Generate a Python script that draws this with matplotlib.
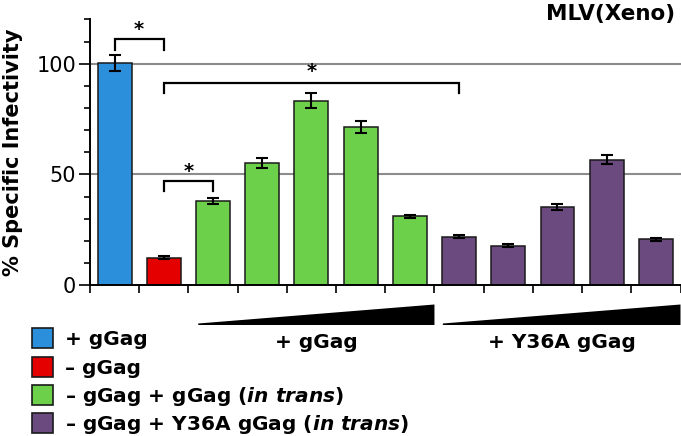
import matplotlib
matplotlib.use("Agg")
import matplotlib.pyplot as plt
from matplotlib.patches import Polygon, Rectangle
import matplotlib.transforms as mtransforms

plt.rcParams['font.family'] = ['DejaVu Sans']
plt.rcParams['mathtext.fontset'] = 'custom'
plt.rcParams['mathtext.rm'] = 'DejaVu Sans:bold'
plt.rcParams['mathtext.it'] = 'DejaVu Sans:italic:bold'
plt.rcParams['mathtext.bf'] = 'DejaVu Sans:bold'

# ---- data ----
values = [100.5, 12.4, 38.0, 55.2, 83.3, 71.3, 31.1, 21.8, 17.8, 35.3, 56.6, 20.7]
errors = [3.6, 0.5, 1.4, 2.1, 3.4, 2.6, 0.6, 0.6, 0.6, 1.5, 2.1, 0.6]
groups = ['blue', 'red', 'green', 'green', 'green', 'green', 'green',
          'purple', 'purple', 'purple', 'purple', 'purple']
colors = {'blue': '#2B8FDB', 'red': '#E50000', 'green': '#6CD04A', 'purple': '#6B4A80'}
legend_labels = ['+ gGag', '– gGag', r'– gGag + gGag ($\mathit{in\ trans}$)',
                 r'– gGag + Y36A gGag ($\mathit{in\ trans}$)']
legend_keys = ['blue', 'red', 'green', 'purple']
# significance brackets: (bar i, bar j, height, drop)
brackets = [(0, 1, 111, 5), (1, 7, 91.3, 4.5), (1, 2, 47, 4.5)]
star_y = [116.6, 97.2, 52.4]
group_labels = ['+ gGag', '+ Y36A gGag']
group_label_x = [4.61, 9.6]
wedge_spans = [(2.2, 7.0), (7.17, 12.0)]

W, H = 681, 436
fig = plt.figure(figsize=(W / 100, H / 100), dpi=100)
ax = fig.add_axes([90 / W, 1 - 285 / H, 590.5 / W, 265.5 / H])

x = [i + 0.5 for i in range(len(values))]
ax.bar(x, values, width=0.69, color=[colors[g] for g in groups],
       edgecolor='#1a1a1a', linewidth=1.1, zorder=2)
ax.errorbar(x, values, yerr=errors, fmt='none', ecolor='black',
            elinewidth=1.5, capsize=4, capthick=1.5, zorder=3)

for yv in (50, 100):
    ax.axhline(yv, color='#8c8c8c', linewidth=1.5, zorder=0)

ax.set_xlim(0, 12)
ax.set_ylim(0, 120)
ax.set_xticks(range(13))
ax.set_xticklabels([])
ax.set_yticks([0, 50, 100])
ax.set_yticks(range(0, 121, 10), minor=True)
ax.tick_params(axis='y', which='major', length=8, width=1.2, direction='out',
               labelsize=15, pad=2)
ax.tick_params(axis='y', which='minor', length=4.5, width=1.2, direction='out')
ax.tick_params(axis='x', which='major', length=6, width=1.2, direction='out')
for s in ('top', 'right'):
    ax.spines[s].set_visible(False)
for s in ('left', 'bottom'):
    ax.spines[s].set_linewidth(1.4)

# brackets and stars
for (i, j, h, d), sy in zip(brackets, star_y):
    xi, xj = x[i], x[j]
    ax.plot([xi, xi, xj, xj], [h - d, h, h, h - d], color='black', lw=1.6,
            solid_joinstyle='miter', zorder=4, clip_on=False)
    ax.text((xi + xj) / 2, sy - 3.4, '*', ha='center', va='baseline',
            fontsize=14, fontweight='bold', zorder=4)

fig.text(675 / W, 1 - 20 / H, 'MLV(Xeno)', ha='right', va='baseline',
         fontsize=15.5, fontweight='bold')
fig.text(13 / W, 1 - 152 / H, '% Specific Infectivity', rotation=90,
         ha='center', va='center', fontsize=15, fontweight='bold')

# wedges below the axis
trans = mtransforms.blended_transform_factory(ax.transData, fig.transFigure)
yb = 1 - 325 / H
yt = 1 - 304.5 / H
for (x0, x1) in wedge_spans:
    poly = Polygon([(x0, yb), (x0, yb + 1.5 / H), (x1, yt), (x1, yb)],
                   closed=True, facecolor='black', edgecolor='none',
                   transform=trans, clip_on=False)
    fig.patches.append(poly)
for lbl, cx in zip(group_labels, group_label_x):
    fig.text(cx, 1 - 348 / H, lbl, transform=trans, ha='center', va='baseline',
             fontsize=14.5, fontweight='bold')

# legend (manual)
row_centers = [338, 366.5, 394.5, 423]
for key, lbl, rc in zip(legend_keys, legend_labels, row_centers):
    fig.patches.append(Rectangle((32 / W, 1 - (rc + 10) / H), 21 / W, 20 / H,
                                 transform=fig.transFigure, facecolor=colors[key],
                                 edgecolor='#1a1a1a', linewidth=1.2))
    fig.text(65 / W, 1 - (rc + 7) / H, lbl, ha='left', va='baseline',
             fontsize=14.5, fontweight='bold')

fig.savefig('out.png', dpi=100)
